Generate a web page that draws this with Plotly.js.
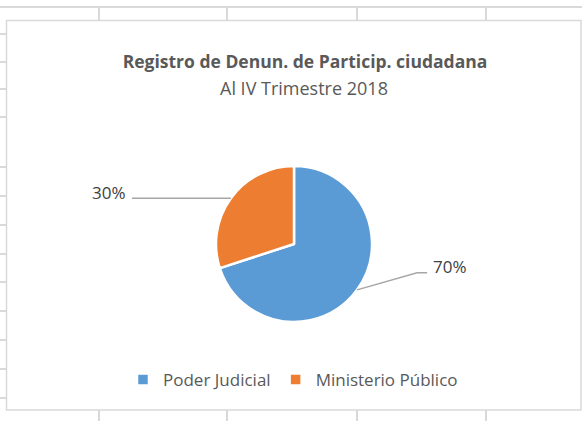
<!DOCTYPE html>
<html>
<head>
<meta charset="utf-8">
<script src="https://cdn.plot.ly/plotly-3.0.1.min.js"></script>
<style>
html,body{margin:0;padding:0;background:#fff;}
#chart{width:582px;height:421px;}
</style>
</head>
<body>
<div id="chart"></div>
<script>
// ---- data ----
const categories = ["Poder Judicial", "Ministerio Público"];
const values = [70, 30];
const sliceColors = ["#5B9BD5", "#ED7D31"];
const titleText = "Registro de Denun. de Particip. ciudadana";
const subtitleText = "Al IV Trimestre 2018";

// ---- layout constants ----
const W = 582, H = 421;
const CX = 294, CY = 244, R = 78;          // pie centre / radius in px
const FONT = "'Open Sans', Lato, sans-serif";
const GRID = "#d9d9d9";
// label placement per slice (offsets in px from slice edge point)
const labelCfg = [
  {bend: [60, -17], end: [10, 0], text: [4, -6], anchor: "left"},
  {bend: [-99, 0], end: [0, 0], text: [-4, -6], anchor: "right"}
];

const px = x => x / W;
const py = y => 1 - y / H;

const total = values.reduce((a, b) => a + b, 0);
const shapes = [];
const annotations = [];

// spreadsheet background grid
shapes.push({type: "line", xref: "paper", yref: "paper", x0: 0, x1: 1, y0: py(7), y1: py(7), line: {color: GRID, width: 2}});
[99, 227, 357, 486].forEach(x => {
  shapes.push({type: "line", xref: "paper", yref: "paper", x0: px(x), x1: px(x), y0: py(7), y1: py(21), line: {color: GRID, width: 2}});
  shapes.push({type: "line", xref: "paper", yref: "paper", x0: px(x), x1: px(x), y0: py(410), y1: py(421), line: {color: GRID, width: 2}});
});
[34, 62, 89, 117, 167, 196, 225, 254, 282, 311, 340, 369, 398].forEach(y => {
  shapes.push({type: "line", xref: "paper", yref: "paper", x0: 0, x1: px(6), y0: py(y), y1: py(y), line: {color: GRID, width: 2}});
});
// chart area border
shapes.push({type: "rect", xref: "paper", yref: "paper", x0: px(6.5), x1: px(581), y0: py(410), y1: py(20.5), line: {color: GRID, width: 1.5}, fillcolor: "rgba(0,0,0,0)", layer: "below"});

// percentage labels with leader lines, positioned from the data angles
let cum = 0;
values.forEach((v, i) => {
  const mid = (cum + v / 2) / total * 2 * Math.PI; // clockwise from 12 o'clock
  cum += v;
  const ex = CX + R * Math.sin(mid), ey = CY - R * Math.cos(mid);
  const c = labelCfg[i];
  const bx = ex + c.bend[0], by = ey + c.bend[1];
  const nx = bx + c.end[0], ny = by + c.end[1];
  shapes.push({type: "path", xref: "paper", yref: "paper",
    path: `M ${px(ex)} ${py(ey)} L ${px(bx)} ${py(by)} L ${px(nx)} ${py(ny)}`,
    line: {color: "#a6a6a6", width: 1.5}});
  annotations.push({xref: "paper", yref: "paper", x: px(nx + c.text[0]), y: py(ny + c.text[1]),
    xanchor: c.anchor, yanchor: "middle", showarrow: false,
    text: Math.round(v / total * 100) + "%",
    font: {family: FONT, size: 17, color: "#404040"}});
});

// subtitle line
annotations.push({xref: "paper", yref: "paper", x: px(304), y: py(88), xanchor: "center", yanchor: "middle",
  showarrow: false, text: subtitleText, font: {family: FONT, size: 18, color: "#595959"}});

const trace = {
  type: "pie",
  labels: categories,
  values: values,
  sort: false,
  direction: "clockwise",
  rotation: 0,
  marker: {colors: sliceColors, line: {color: "#ffffff", width: 2.5}},
  textinfo: "none",
  hoverinfo: "label+percent",
  domain: {x: [px(CX - R), px(CX + R)], y: [py(CY + R), py(CY - R)]}
};

const layout = {
  width: W, height: H,
  margin: {l: 0, r: 0, t: 0, b: 0},
  paper_bgcolor: "#ffffff",
  font: {family: FONT, color: "#595959"},
  title: {
    text: "<b>" + titleText + "</b>",
    font: {family: FONT, size: 17.5, color: "#595959"},
    x: px(305), xanchor: "center", xref: "paper",
    y: py(62), yanchor: "middle", yref: "paper"
  },
  showlegend: true,
  legend: {orientation: "h", x: px(293), xanchor: "center", y: py(380), yanchor: "middle",
    font: {family: FONT, size: 17, color: "#595959"}, bgcolor: "rgba(0,0,0,0)"},
  shapes: shapes,
  annotations: annotations
};

Plotly.newPlot("chart", [trace], layout, {displayModeBar: false, staticPlot: true});
</script>
</body>
</html>
